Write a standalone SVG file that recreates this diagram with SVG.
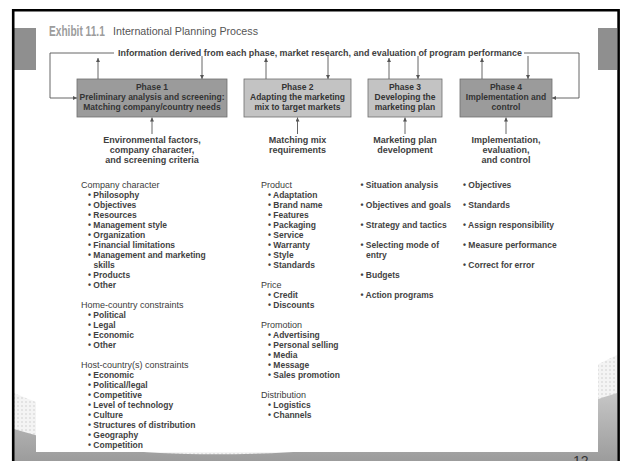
<svg xmlns="http://www.w3.org/2000/svg" width="622" height="461" viewBox="0 0 622 461">
<style>
text{font-family:"Liberation Sans",Arial,sans-serif;}
.title{font-size:14.5px;font-weight:bold;fill:#9c9c9c;}
.subtitle{font-size:10.5px;fill:#555;}
.info{font-size:8.5px;font-weight:bold;fill:#404040;}
.box{stroke:#6e6e6e;stroke-width:0.8;}
.dark{fill:#9b9b9b;}
.light{fill:#c3c3c3;}
.bt{font-size:8.5px;font-weight:bold;fill:#333;text-anchor:middle;}
.inp{font-size:9px;font-weight:bold;fill:#404040;text-anchor:middle;}
.hd{font-size:9px;fill:#3c3c3c;}
.it{font-size:8.5px;font-weight:bold;fill:#424242;}
.conn{stroke:#555;stroke-width:0.9;fill:none;}
.conn path.a{marker-end:url(#ah);}
</style>
<defs>
<marker id="ah" viewBox="0 0 6 6" refX="6" refY="3" markerWidth="4.5" markerHeight="4" orient="auto" markerUnits="userSpaceOnUse">
<path d="M0,0 L6,3 L0,6 z" fill="#555"/>
</marker>
<pattern id="dots" width="4" height="4" patternUnits="userSpaceOnUse">
<rect width="4" height="4" fill="#f4f4f4"/>
<circle cx="2" cy="2" r="1" fill="#dedede"/>
</pattern>
<linearGradient id="gr" x1="0" y1="0" x2="0" y2="1">
<stop offset="0" stop-color="#c6c6c6"/>
<stop offset="1" stop-color="#9c9c9c"/>
</linearGradient>
</defs>

<!-- slide background -->
<rect width="622" height="461" fill="#fff"/>
<path d="M14,393 C120,440 260,452 400,436 S560,380 617,355 L617,461 L14,461 Z" fill="url(#dots)"/>
<path d="M14,429 C120,462 250,458 400,444 S560,410 617,393 L617,461 L14,461 Z" fill="url(#gr)"/>
<rect x="14" y="28" width="22" height="42" fill="#8f8f8f"/>
<rect x="598" y="28" width="19" height="42" fill="#8f8f8f"/>
<!-- exhibit picture -->
<rect x="36" y="11" width="562" height="441" fill="#fff"/>
<path d="M13.2,461 V10.2 H618.6 V461" fill="none" stroke="#000" stroke-width="2.6"/>
<text x="573" y="466" font-size="14" fill="#333">12</text>

<g id="title">
<text class="title" transform="translate(49,35.5) scale(0.7,1)">Exhibit 11.1</text>
<text class="subtitle" x="113" y="35" textLength="145" lengthAdjust="spacingAndGlyphs">International Planning Process</text>
</g>

<g id="feedback">
<text class="info" x="118" y="56" textLength="404" lengthAdjust="spacingAndGlyphs">Information derived from each phase, market research, and evaluation of program performance</text>
</g>

<g class="conn" id="connectors">
<path d="M114,53 H50 V98 H77" class="a"/>
<path d="M524,53 H579 V98 H552" class="a"/>
<path d="M98,79 V58" class="a"/>
<path d="M202,56 V79" class="a"/>
<path d="M266,79 V58" class="a"/>
<path d="M328,56 V79" class="a"/>
<path d="M389,79 V58" class="a"/>
<path d="M418,56 V79" class="a"/>
<path d="M482,79 V58" class="a"/>
<path d="M528,56 V79" class="a"/>
<path d="M152,134 V117.5" class="a"/>
<path d="M297.5,134 V117.5" class="a"/>
<path d="M405,134 V117.5" class="a"/>
<path d="M506,134 V117.5" class="a"/>
</g>

<g id="phase1">
<rect class="box dark" x="77" y="79" width="150" height="38"/>
<text class="bt" x="152" y="90">Phase 1</text>
<text class="bt" x="152" y="100">Preliminary analysis and screening:</text>
<text class="bt" x="152" y="110">Matching company/country needs</text>
</g>
<g id="phase2">
<rect class="box light" x="244" y="79" width="107" height="38"/>
<text class="bt" x="297.5" y="90">Phase 2</text>
<text class="bt" x="297.5" y="100">Adapting the marketing</text>
<text class="bt" x="297.5" y="110">mix to target markets</text>
</g>
<g id="phase3">
<rect class="box light" x="368" y="79" width="74" height="38"/>
<text class="bt" x="405" y="90">Phase 3</text>
<text class="bt" x="405" y="100">Developing the</text>
<text class="bt" x="405" y="110">marketing plan</text>
</g>
<g id="phase4">
<rect class="box dark" x="460" y="79" width="92" height="38"/>
<text class="bt" x="506" y="90">Phase 4</text>
<text class="bt" x="506" y="100">Implementation and</text>
<text class="bt" x="506" y="110">control</text>
</g>

<g id="input1">
<text class="inp" x="152" y="143">Environmental factors,</text>
<text class="inp" x="152" y="153">company character,</text>
<text class="inp" x="152" y="163">and screening criteria</text>
</g>
<g id="input2">
<text class="inp" x="297.5" y="143">Matching mix</text>
<text class="inp" x="297.5" y="153">requirements</text>
</g>
<g id="input3">
<text class="inp" x="405" y="143">Marketing plan</text>
<text class="inp" x="405" y="153">development</text>
</g>
<g id="input4">
<text class="inp" x="506" y="143">Implementation,</text>
<text class="inp" x="506" y="153">evaluation,</text>
<text class="inp" x="506" y="163">and control</text>
</g>

<g id="list1">
<text class="hd" x="81" y="188">Company character</text>
<text class="it" x="88" y="198">• Philosophy</text>
<text class="it" x="88" y="208">• Objectives</text>
<text class="it" x="88" y="218">• Resources</text>
<text class="it" x="88" y="228">• Management style</text>
<text class="it" x="88" y="238">• Organization</text>
<text class="it" x="88" y="248">• Financial limitations</text>
<text class="it" x="88" y="258">• Management and marketing</text>
<text class="it" x="93.5" y="268">skills</text>
<text class="it" x="88" y="278">• Products</text>
<text class="it" x="88" y="288">• Other</text>
<text class="hd" x="81" y="308">Home-country constraints</text>
<text class="it" x="88" y="318">• Political</text>
<text class="it" x="88" y="328">• Legal</text>
<text class="it" x="88" y="338">• Economic</text>
<text class="it" x="88" y="348">• Other</text>
<text class="hd" x="81" y="368">Host-country(s) constraints</text>
<text class="it" x="88" y="378">• Economic</text>
<text class="it" x="88" y="388">• Political/legal</text>
<text class="it" x="88" y="398">• Competitive</text>
<text class="it" x="88" y="408">• Level of technology</text>
<text class="it" x="88" y="418">• Culture</text>
<text class="it" x="88" y="428">• Structures of distribution</text>
<text class="it" x="88" y="438">• Geography</text>
<text class="it" x="88" y="448">• Competition</text>
</g>

<g id="list2">
<text class="hd" x="261" y="188">Product</text>
<text class="it" x="268" y="198">• Adaptation</text>
<text class="it" x="268" y="208">• Brand name</text>
<text class="it" x="268" y="218">• Features</text>
<text class="it" x="268" y="228">• Packaging</text>
<text class="it" x="268" y="238">• Service</text>
<text class="it" x="268" y="248">• Warranty</text>
<text class="it" x="268" y="258">• Style</text>
<text class="it" x="268" y="268">• Standards</text>
<text class="hd" x="261" y="288">Price</text>
<text class="it" x="268" y="298">• Credit</text>
<text class="it" x="268" y="308">• Discounts</text>
<text class="hd" x="261" y="328">Promotion</text>
<text class="it" x="268" y="338">• Advertising</text>
<text class="it" x="268" y="348">• Personal selling</text>
<text class="it" x="268" y="358">• Media</text>
<text class="it" x="268" y="368">• Message</text>
<text class="it" x="268" y="378">• Sales promotion</text>
<text class="hd" x="261" y="398">Distribution</text>
<text class="it" x="268" y="408">• Logistics</text>
<text class="it" x="268" y="418">• Channels</text>
</g>

<g id="list3">
<text class="it" x="360.5" y="188">• Situation analysis</text>
<text class="it" x="360.5" y="208">• Objectives and goals</text>
<text class="it" x="360.5" y="228">• Strategy and tactics</text>
<text class="it" x="360.5" y="248">• Selecting mode of</text>
<text class="it" x="366" y="258">entry</text>
<text class="it" x="360.5" y="278">• Budgets</text>
<text class="it" x="360.5" y="298">• Action programs</text>
</g>

<g id="list4">
<text class="it" x="463" y="188">• Objectives</text>
<text class="it" x="463" y="208">• Standards</text>
<text class="it" x="463" y="228">• Assign responsibility</text>
<text class="it" x="463" y="248">• Measure performance</text>
<text class="it" x="463" y="268">• Correct for error</text>
</g>
</svg>
